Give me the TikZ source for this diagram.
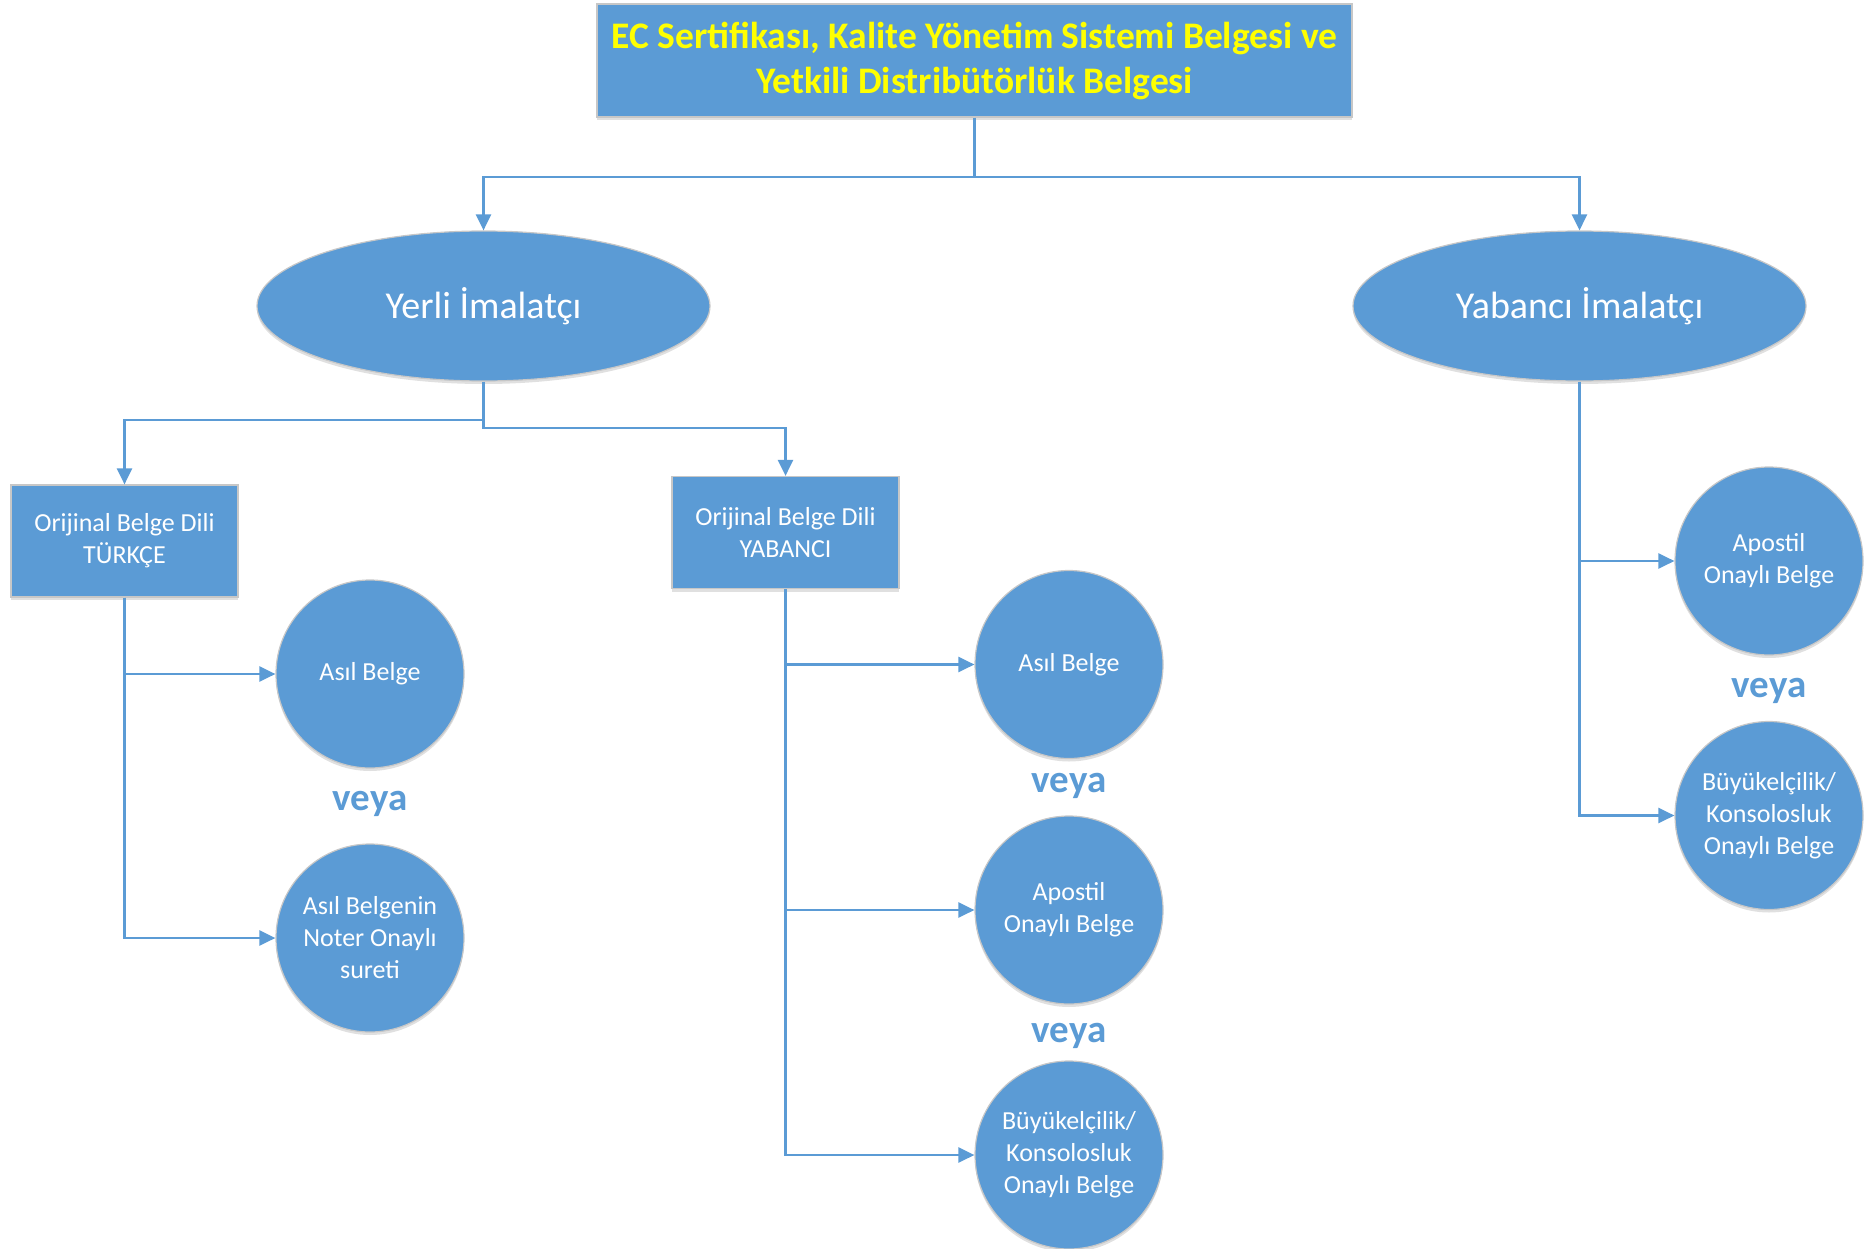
\documentclass[tikz,border=0pt]{standalone}
\usepackage{fontspec}
\setmainfont{Carlito}
\usetikzlibrary{arrows.meta,shadows,shapes.geometric}
\definecolor{obl}{HTML}{5B9BD5}
\definecolor{ybl}{HTML}{FFFF00}
\begin{document}
\begin{tikzpicture}[x=1pt,y=-1pt,
  base/.style={fill=obl, draw=black!22, line width=1.2pt, text=white, align=center,
    drop shadow={shadow xshift=0pt, shadow yshift=-3pt, opacity=0.12, fill=black}},
  topbox/.style={base, rectangle, minimum width=755pt, minimum height=113pt, inner sep=0pt,
    font=\fontsize{37.5}{45}\selectfont\bfseries, text=ybl},
  oval/.style={base, ellipse, minimum width=453pt, minimum height=150pt, inner sep=0pt,
    font=\fontsize{38}{44}\selectfont},
  rbox/.style={base, rectangle, minimum width=227pt, minimum height=112pt, inner sep=0pt,
    font=\fontsize{26}{32}\selectfont},
  circ/.style={base, circle, minimum size=188pt, inner sep=0pt,
    font=\fontsize{26}{32}\selectfont},
  conn/.style={draw=obl, line width=2.5pt, -{Triangle[length=16pt,width=15pt]}},
  veyat/.style={text=obl, font=\fontsize{39}{44}\selectfont\bfseries}]
\useasboundingbox (0,0) rectangle (1865,1249);

\node[topbox] (top) at (974.5,60.5) {EC Sertifikası, Kalite Yönetim Sistemi Belgesi ve\\Yetkili Distribütörlük Belgesi};
\node[oval] (yerli) at (483.5,306) {Yerli İmalatçı};
\node[oval] (yab) at (1579.5,306) {Yabancı İmalatçı};

\node[rbox] (tr) at (124.5,541) {Orijinal Belge Dili\\TÜRKÇE};
\node[rbox] (ya) at (785.5,532.5) {Orijinal Belge Dili\\YABANCI};

\node[circ] (c1) at (370,674) {Asıl Belge};
\node[circ] (c2) at (370,938) {Asıl Belgenin\\Noter Onaylı\\sureti};
\node[veyat] (v1) at (370,804) {veya};

\node[circ] (m1) at (1069,664.5) {Asıl Belge};
\node[circ] (m2) at (1069,910) {Apostil\\Onaylı Belge};
\node[circ] (m3) at (1069,1155) {Büyükelçilik/\\Konsolosluk\\Onaylı Belge};
\node[veyat] (v2) at (1069,786) {veya};
\node[veyat] (v3) at (1069,1036) {veya};

\node[circ] (r1) at (1769,561) {Apostil\\Onaylı Belge};
\node[circ] (r2) at (1769,815.5) {Büyükelçilik/\\Konsolosluk\\Onaylı Belge};
\node[veyat] (v4) at (1769,691) {veya};

\coordinate (j1) at (974.5,177);
\draw[conn] (top.south) -- (j1) -| (yerli.north);
\draw[conn] (j1) -| (yab.north);

\coordinate (j2) at (483.5,420);
\coordinate (j3) at (483.5,428);
\draw[conn] (yerli.south) -- (j2) -| (tr.north);
\draw[conn] (yerli.south) -- (j3) -| (ya.north);

\draw[conn] (tr.south) |- (c1.west);
\draw[conn] (tr.south) |- (c2.west);

\draw[conn] (ya.south) |- (m1.west);
\draw[conn] (ya.south) |- (m2.west);
\draw[conn] (ya.south) |- (m3.west);

\draw[conn] (yab.south) |- (r1.west);
\draw[conn] (yab.south) |- (r2.west);
\end{tikzpicture}
\end{document}
